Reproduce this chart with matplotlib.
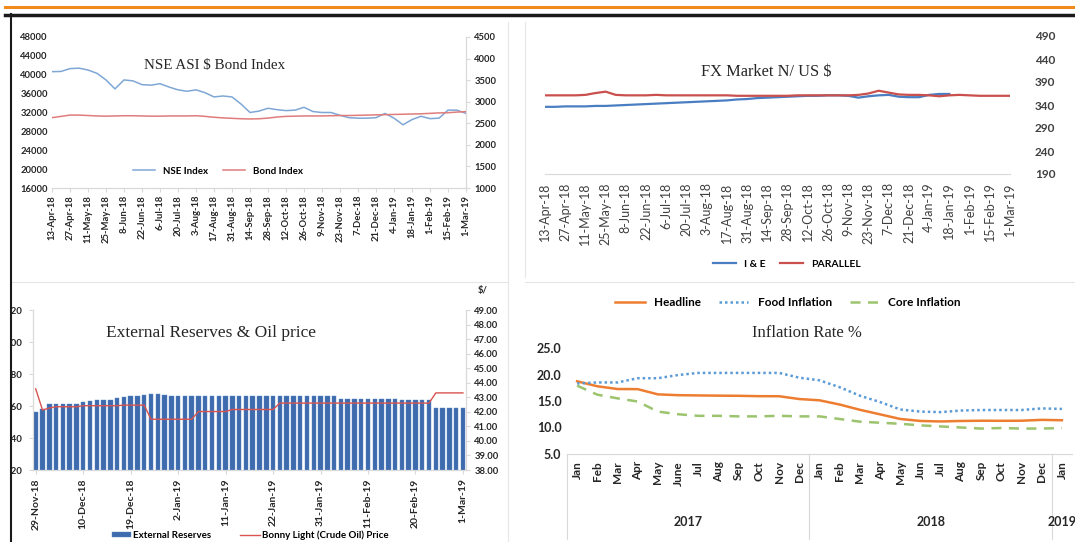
import matplotlib
matplotlib.use('Agg')
import matplotlib.pyplot as plt
import matplotlib.transforms as mtransforms
import pandas as pd
from matplotlib.lines import Line2D
from matplotlib.patches import Rectangle
from matplotlib.ticker import FormatStrFormatter

W, H = 1075, 542
SANS = 'Lato'
SERIF = 'Liberation Serif'

# ---- NSE ASI & Bond index (weekly reads, 13-Apr-18 .. 1-Mar-19)
week_start = '2018-04-13'
nse_index = [40650, 40700, 41300, 41400, 41000, 40300, 38900, 37000, 38900, 38700,
             37900, 37800, 38100, 37400, 36800, 36500, 36800, 36200, 35300, 35500,
             35300, 33800, 32000, 32300, 32900, 32600, 32400, 32500, 33100, 32200,
             32000, 32000, 31400, 30900, 30800, 30800, 30900, 31800, 30800, 29400,
             30500, 31200, 30700, 30800, 32500, 32500, 31800]
bond_index = [2630, 2660, 2690, 2690, 2680, 2670, 2665, 2670, 2675, 2675,
              2670, 2665, 2665, 2670, 2670, 2670, 2675, 2660, 2640, 2625,
              2615, 2605, 2600, 2605, 2620, 2645, 2660, 2665, 2670, 2670,
              2670, 2675, 2680, 2680, 2685, 2690, 2695, 2700, 2705, 2710,
              2715, 2720, 2730, 2740, 2745, 2760, 2770]
date_labels = ['13-Apr-18', '27-Apr-18', '11-May-18', '25-May-18', '8-Jun-18', '22-Jun-18',
               '6-Jul-18', '20-Jul-18', '3-Aug-18', '17-Aug-18', '31-Aug-18', '14-Sep-18',
               '28-Sep-18', '12-Oct-18', '26-Oct-18', '9-Nov-18', '23-Nov-18', '7-Dec-18',
               '21-Dec-18', '4-Jan-19', '18-Jan-19', '1-Feb-19', '15-Feb-19', '1-Mar-19']

# ---- FX market N/US$ (weekly reads)
parallel = [361, 361, 361, 361, 362, 366, 369, 362, 361, 361,
            361, 362, 361, 361, 361, 361, 361, 361, 361, 360,
            360, 360, 360, 360, 360, 361, 361, 361, 361, 361,
            361, 362, 365, 371, 367, 363, 362, 362, 361, 359,
            361, 362, 361, 360, 360, 360, 360]
i_and_e = [336, 336, 337, 337, 337, 338, 338, 339, 340, 341,
           342, 343, 344, 345, 346, 347, 348, 349, 350, 352,
           353, 355, 356, 357, 358, 359, 360, 360, 361, 361,
           360, 356, 359, 361, 362, 358, 357, 357, 362, 364, 364]

# ---- External reserves & Bonny Light price (business days 29-Nov-18 .. 1-Mar-19)
reserves = [42.56, 42.58, 42.61, 42.61, 42.61, 42.61, 42.61, 42.625, 42.63, 42.635,
            42.64, 42.64, 42.65, 42.655, 42.66, 42.665, 42.67, 42.675, 42.675, 42.67,
            42.665, 42.66, 42.66, 42.66, 42.66, 42.66, 42.66, 42.66, 42.66, 42.66,
            42.66, 42.66, 42.66, 42.66, 42.66, 42.66, 42.66, 42.66, 42.66, 42.66,
            42.66, 42.66, 42.66, 42.66, 42.66, 42.645, 42.645, 42.645, 42.645, 42.645,
            42.645, 42.645, 42.645, 42.645, 42.635, 42.635, 42.635, 42.635, 42.635, 42.59,
            42.59, 42.59, 42.59, 42.59]
oil_price = [43.58, 42.12, 42.26, 42.35, 42.35, 42.35, 42.35, 42.42, 42.42, 42.42,
             42.42, 42.42, 42.42, 42.46, 42.46, 42.46, 42.46, 41.49, 41.49, 41.49,
             41.49, 41.49, 41.49, 41.49, 42.02, 42.02, 42.02, 42.02, 42.02, 42.16,
             42.16, 42.16, 42.16, 42.16, 42.16, 42.16, 42.6, 42.6, 42.6, 42.6,
             42.6, 42.6, 42.6, 42.6, 42.6, 42.6, 42.6, 42.6, 42.6, 42.6,
             42.6, 42.6, 42.6, 42.6, 42.6, 42.6, 42.6, 42.6, 42.6, 43.3,
             43.3, 43.3, 43.3, 43.3]
reserve_labels = ['29-Nov-18', '10-Dec-18', '19-Dec-18', '2-Jan-19', '11-Jan-19',
                  '22-Jan-19', '31-Jan-19', '11-Feb-19', '20-Feb-19', '1-Mar-19']

# ---- Inflation rate % (Jan 2017 .. Jan 2019)
months = ['Jan', 'Feb', 'Mar', 'Apr', 'May', 'June', 'Jul', 'Aug', 'Sep', 'Oct', 'Nov', 'Dec',
          'Jan', 'Feb', 'Mar', 'Apr', 'May', 'Jun', 'Jul', 'Aug', 'Sep', 'Oct', 'Nov', 'Dec', 'Jan']
years = ['2017', '2018', '2019']
headline = [18.72, 17.78, 17.26, 17.24, 16.25, 16.10, 16.05, 16.01, 15.98, 15.91, 15.90, 15.37,
            15.13, 14.33, 13.34, 12.48, 11.61, 11.23, 11.14, 11.23, 11.28, 11.26, 11.28, 11.44, 11.37]
food = [18.3, 18.5, 18.5, 19.3, 19.3, 19.9, 20.3, 20.3, 20.3, 20.3, 20.3, 19.4,
        18.9, 17.6, 16.0, 14.8, 13.4, 13.0, 12.9, 13.2, 13.3, 13.3, 13.3, 13.6, 13.5]
core = [17.9, 16.2, 15.5, 14.9, 13.0, 12.5, 12.2, 12.2, 12.1, 12.1, 12.2, 12.1,
        12.1, 11.6, 11.1, 10.9, 10.7, 10.4, 10.2, 10.0, 9.8, 9.9, 9.8, 9.8, 9.9]


def box(x0, y0, x1, y1):
    return [x0 / W, 1 - y1 / H, (x1 - x0) / W, (y1 - y0) / H]


def fy(y):
    return 1 - y / H


def tick_font(ax, size, weight='bold', color='#262626'):
    for lab in ax.get_xticklabels() + ax.get_yticklabels():
        lab.set_fontsize(size)
        lab.set_fontweight(weight)
        lab.set_family(SANS)
        lab.set_color(color)


fig = plt.figure(figsize=(W / 100, H / 100), dpi=100)
grid = '#d9d9d9'

# ================= NSE ASI $ Bond Index
weeks = pd.date_range(week_start, periods=len(nse_index), freq='7D')
tick_pos = pd.to_datetime(date_labels, format='%d-%b-%y')

ax1 = fig.add_axes(box(52, 37, 466, 188))
l_nse, = ax1.plot(weeks, nse_index, color='#7FA7D6', lw=1.1, label='NSE Index')
ax1.set_ylim(16000, 48000)
ax1.set_yticks(range(16000, 48001, 4000))
ax1.set_xlim(tick_pos[0], tick_pos[-1])
ax1.set_xticks(tick_pos)
ax1.set_xticklabels(date_labels, rotation=90)
ax1.tick_params(axis='x', length=3, color=grid, pad=2)
ax1.tick_params(axis='y', length=0, pad=3)
ax1b = ax1.twinx()
l_bond, = ax1b.plot(weeks, bond_index, color='#E07C7C', lw=1.1, label='Bond Index')
ax1b.set_ylim(1000, 4500)
ax1b.set_yticks(range(1000, 4501, 500))
ax1b.tick_params(axis='y', length=3, color=grid, pad=3)
for a in (ax1, ax1b):
    for s in a.spines.values():
        s.set_color(grid)
    a.spines['top'].set_visible(False)
    a.spines['left'].set_visible(False)
tick_font(ax1, 6.8)
tick_font(ax1b, 6.8)
ax1b.legend(handles=[l_nse, l_bond], loc='center', bbox_to_anchor=(218 / W, fy(171)),
            bbox_transform=fig.transFigure, ncol=2, frameon=False, handlelength=2.2,
            columnspacing=1.6, prop={'family': SANS, 'weight': 'bold', 'size': 7})
fig.text(215 / W, fy(65), 'NSE ASI $ Bond Index', family=SERIF, fontsize=10.8,
         ha='center', va='center', color='#262626')

# ================= FX Market
ax2 = fig.add_axes(box(545, 36, 1010, 174))
l_ie, = ax2.plot(weeks[:len(i_and_e)], i_and_e, color='#4A7EC2', lw=1.6, label='I & E')
l_par, = ax2.plot(weeks, parallel, color='#C9504D', lw=1.6, label='PARALLEL')
ax2.set_ylim(190, 490)
ax2.set_yticks(range(190, 491, 50))
ax2.yaxis.tick_right()
ax2.set_xlim(tick_pos[0], tick_pos[-1])
ax2.set_xticks(tick_pos)
ax2.set_xticklabels(date_labels, rotation=90)
ax2.tick_params(axis='x', length=0, pad=6)
ax2.tick_params(axis='y', length=0, pad=18)
for k, s in ax2.spines.items():
    s.set_visible(k == 'bottom')
    s.set_color(grid)
tick_font(ax2, 9, weight='normal', color='#404040')
for lab in ax2.get_yticklabels():
    lab.set_fontweight('bold')
    lab.set_fontsize(8.5)
ax2.legend(handles=[l_ie, l_par], loc='center', bbox_to_anchor=(787 / W, fy(264)),
           bbox_transform=fig.transFigure, ncol=2, frameon=False, handlelength=2.2,
           columnspacing=1.4, prop={'family': SANS, 'weight': 'bold', 'size': 7.5})
fig.text(766 / W, fy(72), 'FX Market N/ US $', family=SERIF, fontsize=11.8,
         ha='center', va='center', color='#262626')

# ================= External Reserves & Oil price
pos = list(range(len(reserves)))
ax3 = fig.add_axes(box(33, 310, 466, 470))
bars = ax3.bar(pos, reserves, width=0.66, color='#3E6BAD', edgecolor='#5B86C4',
               linewidth=0.3, label='External Reserves')
ax3.set_ylim(42.2, 43.2)
ax3.set_yticks([42.2, 42.4, 42.6, 42.8, 43.0, 43.2])
ax3.yaxis.set_major_formatter(FormatStrFormatter('%.2f'))
ax3.set_xlim(-0.4, len(reserves) - 0.55)
ax3.set_xticks(pos[::7])
ax3.set_xticklabels(reserve_labels, rotation=90)
ax3.tick_params(axis='x', length=3, color=grid, pad=3)
ax3.tick_params(axis='y', length=3, color=grid, pad=4.5)
ax3b = ax3.twinx()
l_oil, = ax3b.plot(pos, oil_price, color='#D9534F', lw=1.0, label='Bonny Light (Crude Oil) Price')
ax3b.set_ylim(38, 49)
ax3b.set_yticks(range(38, 50))
ax3b.yaxis.set_major_formatter(FormatStrFormatter('%.2f'))
ax3b.tick_params(axis='y', length=3, color=grid, pad=3)
for a in (ax3, ax3b):
    for s in a.spines.values():
        s.set_color(grid)
    a.spines['top'].set_visible(False)
tick_font(ax3, 7.5)
tick_font(ax3b, 6.8)
for lab in ax3.get_yticklabels():
    lab.set_fontsize(7)
ax3b.legend(handles=[bars, l_oil], loc='center', bbox_to_anchor=(250 / W, fy(535)),
            bbox_transform=fig.transFigure, ncol=2, frameon=False, handlelength=2.0,
            handleheight=0.5, columnspacing=3.0, handletextpad=0.2,
            prop={'family': SANS, 'weight': 'bold', 'size': 7})
fig.text(211 / W, fy(333), 'External Reserves & Oil price', family=SERIF, fontsize=12.5,
         ha='center', va='center', color='#262626')
fig.text(478 / W, fy(290), '$/', family=SANS, fontweight='bold', fontsize=6.8,
         ha='left', va='center', color='#262626')

# ================= Inflation Rate %
x4 = list(range(len(months)))
ax4 = fig.add_axes(box(567, 348, 1072, 454))
l_head, = ax4.plot(x4, headline, color='#ED7D31', lw=1.8, label='Headline')
l_food, = ax4.plot(x4, food, color='#5B9BD5', lw=1.8, ls=(0, (1, 1.2)), label='Food Inflation')
l_core, = ax4.plot(x4, core, color='#9CC46F', lw=1.8, ls=(0, (4, 3)), label='Core Inflation')
ax4.set_ylim(5, 25)
ax4.set_yticks([5, 10, 15, 20, 25])
ax4.yaxis.set_major_formatter(FormatStrFormatter('%.1f'))
ax4.set_xlim(-0.5, len(months) - 0.5)
ax4.set_xticks(x4)
ax4.set_xticklabels(months, rotation=90)
ax4.tick_params(axis='x', length=0, pad=5)
ax4.tick_params(axis='y', length=0, pad=4)
for k, s in ax4.spines.items():
    s.set_visible(k == 'bottom')
    s.set_color(grid)
tick_font(ax4, 8.5)
for lab in ax4.get_yticklabels():
    lab.set_fontsize(9)
trans = mtransforms.blended_transform_factory(ax4.transData, ax4.transAxes)
for xs in (-0.5, 11.5, 23.5):
    ax4.plot([xs, xs], [0, -0.8], transform=trans, color=grid, lw=0.8, clip_on=False)
for xc, yr in zip((5.5, 17.5, 24.0), years):
    ax4.text(xc, -0.64, yr, transform=trans, ha='center', va='center', family=SANS,
             fontweight='bold', fontsize=9, color='#262626')
ax4.legend(handles=[l_head, l_food, l_core], loc='center', bbox_to_anchor=(788 / W, fy(303)),
           bbox_transform=fig.transFigure, ncol=3, frameon=False, handlelength=2.5,
           columnspacing=1.5, prop={'family': SANS, 'weight': 'bold', 'size': 8.5})
fig.text(807 / W, fy(333), 'Inflation Rate %', family=SERIF, fontsize=12,
         ha='center', va='center', color='#262626')

# ================= page frame
fig.add_artist(Rectangle((0, 0), 10 / W, 1, transform=fig.transFigure,
                         color='white', zorder=19))
fig.add_artist(Line2D([5 / W, 1], [fy(7), fy(7)], transform=fig.transFigure,
                      color='#F08A1C', lw=2.2, zorder=21))
fig.add_artist(Line2D([5 / W, 1], [fy(15), fy(15)], transform=fig.transFigure,
                      color='#1a1a1a', lw=2.5, zorder=21))
fig.add_artist(Line2D([11 / W, 11 / W], [fy(14), 0], transform=fig.transFigure,
                      color='#1a1a1a', lw=1.5, zorder=21))
for xa, ya, xb, yb in [(508, 22, 508, 542), (525, 22, 525, 277), (12, 282, 508, 282),
                       (525, 282, 1075, 282)]:
    fig.add_artist(Line2D([xa / W, xb / W], [fy(ya), fy(yb)], transform=fig.transFigure,
                          color='#e6e6e6', lw=0.8, zorder=1))

fig.savefig('out.png', dpi=100, facecolor='white')
